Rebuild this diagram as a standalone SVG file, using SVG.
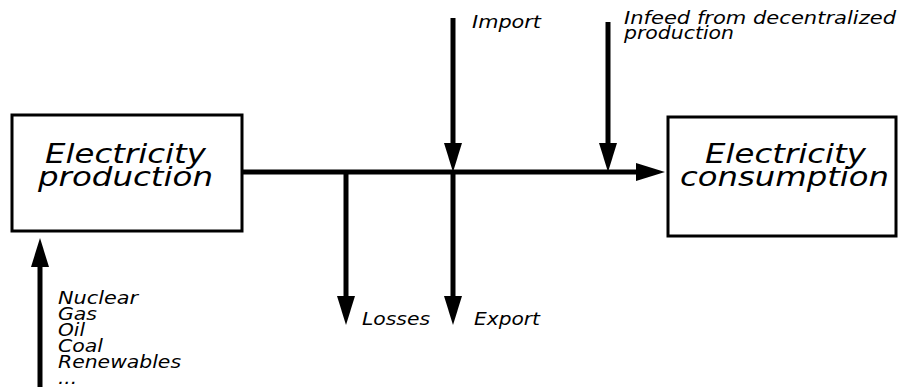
<svg xmlns="http://www.w3.org/2000/svg" width="899" height="387" viewBox="0 0 899 387">
<style>
.box{fill:#fff;stroke:#000;stroke-width:3}
.big{font-family:"DejaVu Sans",Verdana,sans-serif;font-style:italic;font-size:26px;fill:#000}
.sm{font-family:"DejaVu Sans",Verdana,sans-serif;font-style:italic;font-size:17px;fill:#000}
.ln{stroke:#000;stroke-width:5;fill:none}
</style>
<defs>
<marker id="ah" viewBox="0 0 30 18" refX="1" refY="9" markerWidth="30" markerHeight="18" markerUnits="userSpaceOnUse" orient="auto">
<path d="M0,0 L29,9 L0,18 z" fill="#000"/>
</marker>
</defs>
<rect width="899" height="387" fill="#fff"/>
<g id="connectors">
<line class="ln" x1="242" y1="172" x2="637" y2="172" marker-end="url(#ah)"/>
<line class="ln" x1="453" y1="18" x2="453" y2="144" marker-end="url(#ah)"/>
<line class="ln" x1="608" y1="22" x2="608" y2="144" marker-end="url(#ah)"/>
<line class="ln" x1="346" y1="172" x2="346" y2="297" marker-end="url(#ah)"/>
<line class="ln" x1="453" y1="172" x2="453" y2="297" marker-end="url(#ah)"/>
<line class="ln" x1="40" y1="387" x2="40" y2="266" marker-end="url(#ah)"/>
</g>
<g id="production">
<rect class="box" x="12" y="115" width="230" height="116"/>
<text class="big" x="45" y="163" textLength="161" lengthAdjust="spacingAndGlyphs">Electricity</text>
<text class="big" x="38" y="186" textLength="175" lengthAdjust="spacingAndGlyphs">production</text>
</g>
<g id="consumption">
<rect class="box" x="668" y="117" width="228" height="119"/>
<text class="big" x="705" y="163" textLength="161" lengthAdjust="spacingAndGlyphs">Electricity</text>
<text class="big" x="680" y="186" textLength="209" lengthAdjust="spacingAndGlyphs">consumption</text>
</g>
<g id="import">
<text class="sm" x="472" y="28" textLength="69" lengthAdjust="spacingAndGlyphs">Import</text>
</g>
<g id="infeed">
<text class="sm" x="624" y="24" textLength="272" lengthAdjust="spacingAndGlyphs">Infeed from decentralized</text>
<text class="sm" x="624" y="39" textLength="110" lengthAdjust="spacingAndGlyphs">production</text>
</g>
<g id="losses">
<text class="sm" x="362" y="325" textLength="68" lengthAdjust="spacingAndGlyphs">Losses</text>
</g>
<g id="export">
<text class="sm" x="474" y="325" textLength="66" lengthAdjust="spacingAndGlyphs">Export</text>
</g>
<g id="sources">
<text class="sm" x="58" y="304" textLength="80" lengthAdjust="spacingAndGlyphs">Nuclear</text>
<text class="sm" x="58" y="320" textLength="39" lengthAdjust="spacingAndGlyphs">Gas</text>
<text class="sm" x="58" y="336" textLength="27" lengthAdjust="spacingAndGlyphs">Oil</text>
<text class="sm" x="58" y="352" textLength="45" lengthAdjust="spacingAndGlyphs">Coal</text>
<text class="sm" x="58" y="368" textLength="123" lengthAdjust="spacingAndGlyphs">Renewables</text>
<text class="sm" x="58" y="384" textLength="19" lengthAdjust="spacingAndGlyphs">...</text>
</g>
</svg>
